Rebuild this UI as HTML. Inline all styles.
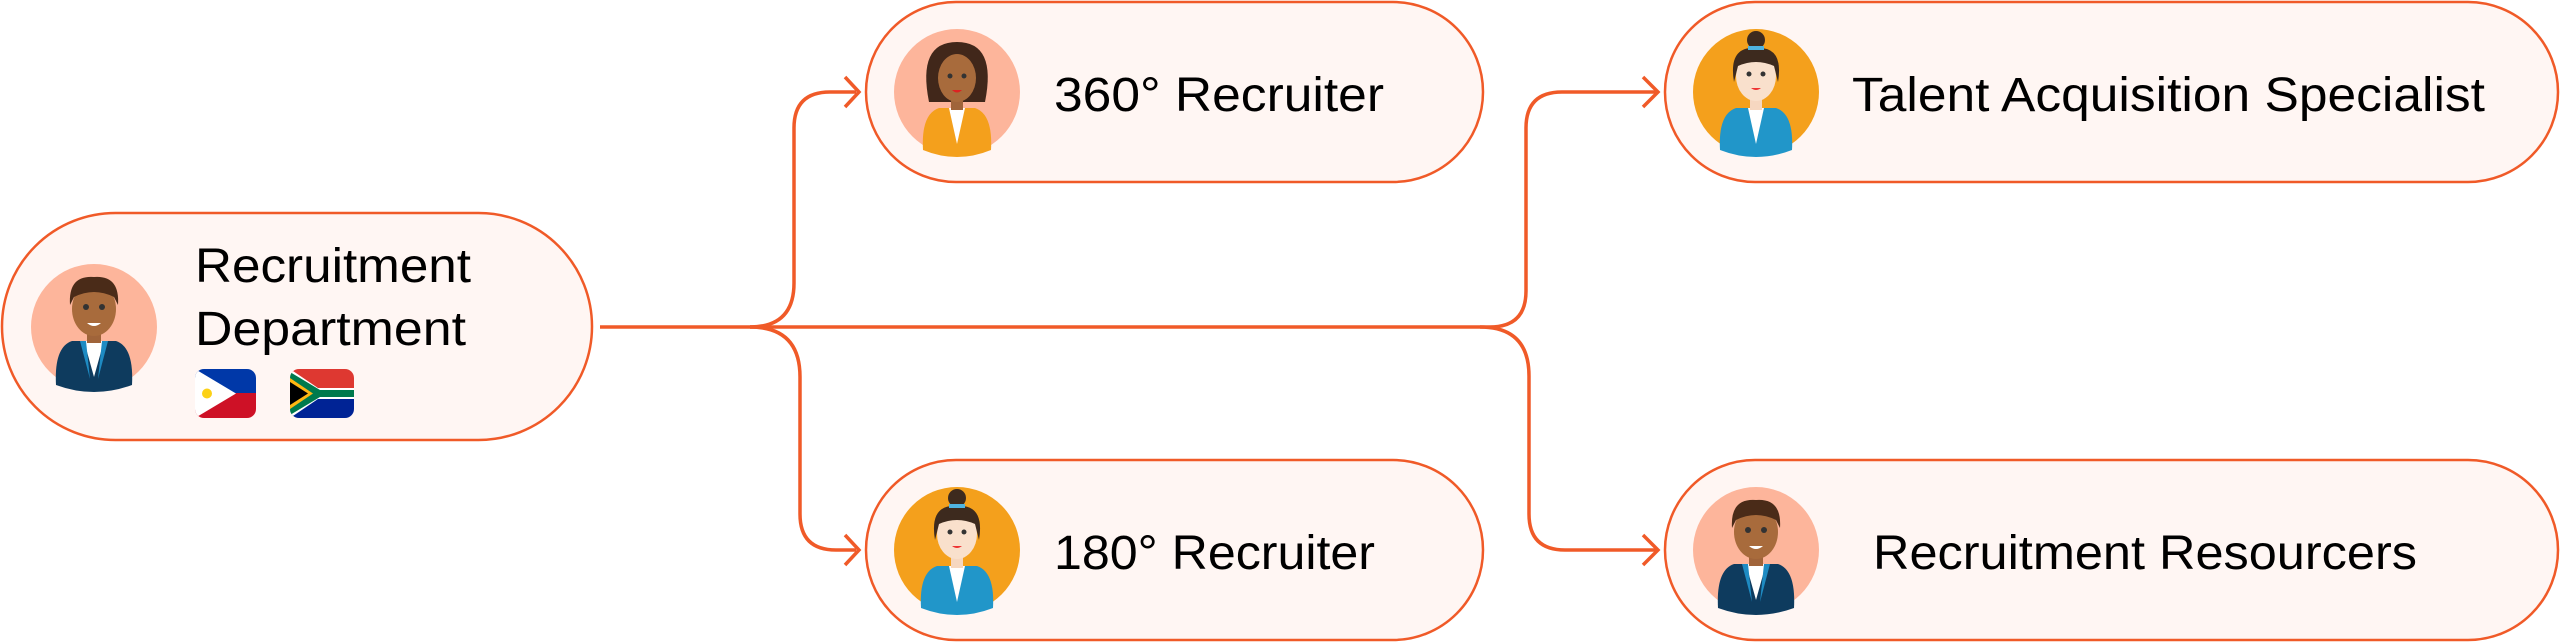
<!DOCTYPE html>
<html><head><meta charset="utf-8"><style>
html,body{margin:0;padding:0;background:#fff;}
svg{display:block;}
text{font-family:"Liberation Sans",sans-serif;font-size:48px;fill:#000;}
</style></head><body>
<svg width="2560" height="642" viewBox="0 0 2560 642" xmlns="http://www.w3.org/2000/svg">
<defs>
<g id="man">
  <circle cx="0" cy="0" r="63" fill="#fdb59b"/>
  <path d="M-38 58 Q-40 20 -22 14 L22 14 Q40 20 38 58 Q0 72 -38 58Z" fill="#0e3b5e"/>
  <path d="M-10 14 L0 50 L10 14Z" fill="#fff"/>
  <path d="M-14 14 L-4 52 L-8 14Z" fill="#1e8bc3"/>
  <path d="M14 14 L4 52 L8 14Z" fill="#1e8bc3"/>
  <rect x="-7" y="2" width="14" height="14" fill="#a0643a"/>
  <ellipse cx="0" cy="-18" rx="22" ry="27" fill="#a86b3c"/>
  <path d="M-24 -22 Q-26 -52 0 -50 Q26 -52 24 -22 L20 -30 Q0 -40 -20 -30Z" fill="#4a2b18"/>
  <circle cx="-8" cy="-20" r="3" fill="#333"/><circle cx="8" cy="-20" r="3" fill="#333"/>
  <path d="M-7 -4 Q0 2 7 -4Z" fill="#fff"/>
</g>
<g id="woman">
  <circle cx="0" cy="0" r="63" fill="#f4a01c"/>
  <path d="M-36 58 Q-38 22 -20 16 L20 16 Q38 22 36 58 Q0 72 -36 58Z" fill="#2196c9"/>
  <path d="M-8 16 L0 52 L8 16Z" fill="#fff"/>
  <rect x="-6" y="4" width="12" height="14" fill="#f6d7c0"/>
  <ellipse cx="0" cy="-16" rx="20" ry="25" fill="#f9e0cc"/>
  <path d="M-22 -10 Q-28 -46 0 -44 Q28 -46 22 -10 L18 -26 Q0 -34 -18 -26Z" fill="#3d2a1e"/>
  <circle cx="0" cy="-52" r="9" fill="#3d2a1e"/>
  <rect x="-8" y="-46" width="16" height="4" fill="#4fb3e0"/>
  <circle cx="-7" cy="-18" r="2.5" fill="#333"/><circle cx="7" cy="-18" r="2.5" fill="#333"/>
  <path d="M-5 -4 Q0 0 5 -4Z" fill="#e33"/>
</g>
<g id="woman2">
  <circle cx="0" cy="0" r="63" fill="#fdb59b"/>
  <path d="M-28 10 Q-40 -50 0 -50 Q40 -50 28 10Z" fill="#41271a"/>
  <path d="M-34 58 Q-36 22 -18 16 L18 16 Q36 22 34 58 Q0 72 -34 58Z" fill="#f4a01c"/>
  <path d="M-8 16 L0 52 L8 16Z" fill="#fff"/>
  <rect x="-6" y="2" width="12" height="16" fill="#a0643a"/>
  <ellipse cx="0" cy="-14" rx="19" ry="24" fill="#a86b3c"/>
  <circle cx="-7" cy="-16" r="2.5" fill="#333"/><circle cx="7" cy="-16" r="2.5" fill="#333"/>
  <path d="M-5 -2 Q0 3 5 -2Z" fill="#d22"/>
</g>
</defs>

<g fill="none" stroke="#f05a28" stroke-width="3.5">
  <path d="M600 327 H1490 Q1526 327 1526 291 V128 Q1526 92 1562 92 H1656"/>
  <path d="M1480 327 Q1529 327 1529 376 V514 Q1529 550 1565 550 H1656"/>
  <path d="M750 327 Q794 327 794 283 V128 Q794 92 830 92 H856"/>
  <path d="M750 327 Q800 327 800 377 V514 Q800 550 836 550 H856"/>
  <path d="M845 77 L859 92 L845 107"/>
  <path d="M845 535 L859 550 L845 565"/>
  <path d="M1643 77 L1658 92 L1643 107"/>
  <path d="M1643 535 L1658 550 L1643 565"/>
</g>

<g fill="#fff6f3" stroke="#f05a28" stroke-width="2.5">
  <rect x="2" y="213" width="590" height="227" rx="113.5"/>
  <rect x="866" y="2" width="617" height="180" rx="90"/>
  <rect x="866" y="460" width="617" height="180" rx="90"/>
  <rect x="1665" y="2" width="893" height="180" rx="90"/>
  <rect x="1665" y="460" width="893" height="180" rx="90"/>
</g>

<use href="#man" x="94" y="327"/>
<use href="#woman2" x="957" y="92"/>
<use href="#woman" x="957" y="550"/>
<use href="#woman" x="1756" y="92"/>
<use href="#man" x="1756" y="550"/>

<!-- flags -->
<g>
  <clipPath id="f1"><rect x="195" y="369" width="61" height="49" rx="9"/></clipPath>
  <g clip-path="url(#f1)">
    <rect x="195" y="369" width="61" height="25" fill="#0038a8"/>
    <rect x="195" y="393" width="61" height="25" fill="#ce1126"/>
    <path d="M195 369 L236 393.5 L195 418Z" fill="#fff"/>
    <circle cx="207" cy="393.5" r="5" fill="#fcd116"/>
  </g>
  <clipPath id="f2"><rect x="290" y="369" width="64" height="49" rx="9"/></clipPath>
  <g clip-path="url(#f2)">
    <rect x="290" y="369" width="64" height="25" fill="#de3831"/>
    <rect x="290" y="393" width="64" height="25" fill="#002395"/>
    <path d="M290 369 L318 388 H354 V399 H318 L290 418Z" fill="#fff"/>
    <path d="M290 372 L320 390 H354 V397 H320 L290 415Z" fill="#007a4d"/>
    <path d="M290 378 L313 393.5 L290 409Z" fill="#ffb612"/>
    <path d="M290 382 L308 393.5 L290 405Z" fill="#000"/>
  </g>
</g>

<text x="195" y="282" textLength="276" lengthAdjust="spacingAndGlyphs">Recruitment</text>
<text x="195" y="345" textLength="271" lengthAdjust="spacingAndGlyphs">Department</text>
<text x="1054" y="111" textLength="330" lengthAdjust="spacingAndGlyphs">360° Recruiter</text>
<text x="1054" y="569" textLength="321" lengthAdjust="spacingAndGlyphs">180° Recruiter</text>
<text x="1852" y="111" textLength="633" lengthAdjust="spacingAndGlyphs">Talent Acquisition Specialist</text>
<text x="1873" y="569" textLength="544" lengthAdjust="spacingAndGlyphs">Recruitment Resourcers</text>
</svg>
</body></html>
